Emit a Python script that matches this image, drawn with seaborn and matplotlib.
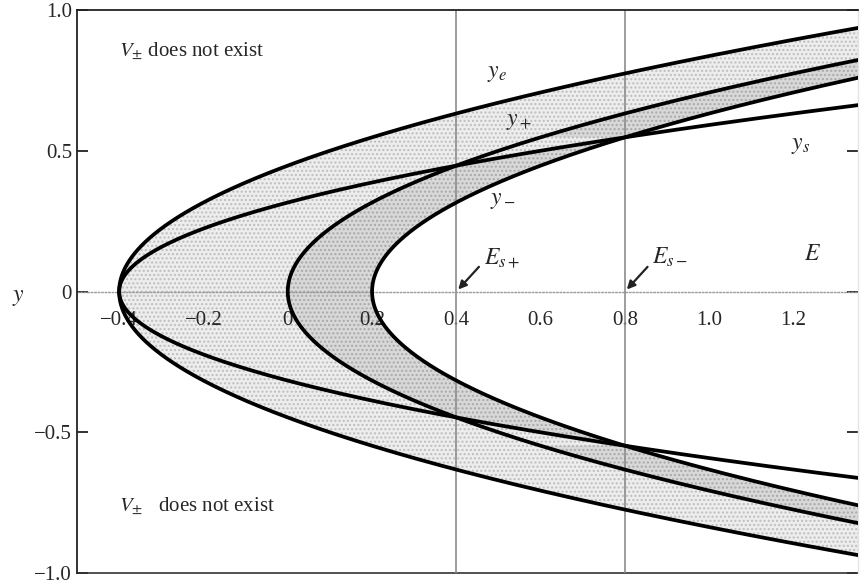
import numpy as np
import pandas as pd
import matplotlib
matplotlib.use("Agg")
import matplotlib.pyplot as plt
import seaborn as sns

# Boundary curves E = E0 + c * y**2
curve_names = ["y_e", "y_s", "y_+", "y_-"]
vertex_E = [-0.4, -0.4, 0.0, 0.2]
curvature = [2.0, 4.0, 2.0, 2.0]

# Special energies marked by vertical lines
E_special = [0.4, 0.8]
E_special_labels = [r"$E_{s+}$", r"$E_{s-}$"]

x_ticks = [-0.4, -0.2, 0.0, 0.2, 0.4, 0.6, 0.8, 1.0, 1.2]
x_ticklabels = ["\u22120.4", "\u22120.2", "0", "0.2", "0.4", "0.6", "0.8", "1.0", "1.2"]
y_ticks = [1.0, 0.5, 0.0, -0.5, -1.0]
y_ticklabels = ["1.0", "0.5", "0", "\u22120.5", "\u22121.0"]

sns.set_theme(style="white")
plt.rcParams["font.family"] = ["Liberation Serif", "DejaVu Serif"]
plt.rcParams["mathtext.fontset"] = "stix"

yy = np.linspace(-1.05, 1.05, 801)
rows = []
for name, e0, c in zip(curve_names, vertex_E, curvature):
    for y in yy:
        rows.append({"curve": name, "E": e0 + c * y * y, "y": y})
df = pd.DataFrame(rows)

fig = plt.figure(figsize=(8.65, 5.86), dpi=100)
ax = fig.add_axes([0.089, 0.022, 0.903, 0.961])

Ecurve = {n: e0 + c * yy ** 2 for n, e0, c in zip(curve_names, vertex_E, curvature)}

# light stipple band: inside y_e, outside y_-
ax.fill_betweenx(yy, Ecurve["y_e"], Ecurve["y_-"], color="#ededed", lw=0, zorder=1)
ax.fill_betweenx(yy, Ecurve["y_e"], Ecurve["y_-"], facecolor="none",
                 edgecolor="#bdbdbd", hatch="....", lw=0, zorder=1)
# darker band between y_+ and y_- (lens above y_s stays light)
inside = (Ecurve["y_s"] > Ecurve["y_+"]) & (Ecurve["y_s"] < Ecurve["y_-"])
dark_left = np.where(inside, Ecurve["y_s"], Ecurve["y_+"])
ax.fill_betweenx(yy, dark_left, Ecurve["y_-"], color="#d8d8d8", lw=0, zorder=1.1)
ax.fill_betweenx(yy, dark_left, Ecurve["y_-"], facecolor="none",
                 edgecolor="#a8a8a8", hatch="....", lw=0, zorder=1.1)

for e in E_special:
    ax.axvline(e, color="#8c8c8c", lw=1.2, zorder=3.5)

sns.lineplot(data=df, x="E", y="y", hue="curve", orient="y", sort=True,
             palette=["black"] * 4, legend=False, lw=2.7, ax=ax, zorder=4)

ax.set_xlim(-0.5, 1.353)
ax.set_ylim(-1.0, 1.0)
ax.set_xlabel("")
ax.set_ylabel("")

# axis through y = 0 carries the E ticks
ax.spines["bottom"].set_position(("data", 0))
ax.spines["bottom"].set_linestyle((0, (1, 1.5)))
ax.spines["bottom"].set_color("#9a9a9a")
ax.spines["bottom"].set_linewidth(1.0)
ax.spines["bottom"].set_zorder(3)
ax.xaxis.set_zorder(3)
ax.plot([0, 1], [0, 0], transform=ax.transAxes, color="#333333", lw=1.2, clip_on=False)
for s in ["left", "top"]:
    ax.spines[s].set_color("#222222")
    ax.spines[s].set_linewidth(1.3)
    ax.spines[s].set_zorder(5)
ax.spines["right"].set_color("#e4e4e4")
ax.spines["right"].set_linewidth(1.0)

ax.set_xticks(x_ticks)
ax.set_xticklabels(x_ticklabels)
ax.set_yticks(y_ticks)
ax.set_yticklabels(y_ticklabels)
ax.tick_params(axis="x", direction="inout", length=12, width=1.6, color="#555555",
               labelsize=15, pad=8)
ax.tick_params(axis="y", direction="in", length=8, width=1.3, color="#222222",
               labelsize=15, right=True, left=True)

# curve labels
ax.text(0.497, 0.775, r"$y_e$", fontsize=17, ha="center", va="center")
ax.text(0.549, 0.605, r"$y_+$", fontsize=17, ha="center", va="center")
ax.text(0.511, 0.325, r"$y_-$", fontsize=17, ha="center", va="center")
ax.text(1.216, 0.52, r"$y_s$", fontsize=17, ha="center", va="center")
ax.text(1.245, 0.13, r"$E$", fontsize=17, ha="center", va="center")

for e, lab in zip(E_special, E_special_labels):
    ax.annotate("", xy=(e, 0.0), xytext=(e + 0.058, 0.095),
                arrowprops=dict(arrowstyle="-|>", color="#222222", lw=1.6,
                                mutation_scale=12), zorder=5)
    ax.text(e + 0.065, 0.12, lab, fontsize=17, ha="left", va="center")

ax.text(-0.4, 0.855, r"$V_{\pm}$ does not exist", fontsize=15, ha="left", va="center")
ax.text(-0.4, -0.76, r"$V_{\pm}$   does not exist", fontsize=15, ha="left", va="center")

fig.text(12 / 865, 1 - 297 / 586, r"$y$", fontsize=17, ha="left", va="center")

fig.savefig("out.png", dpi=100)
